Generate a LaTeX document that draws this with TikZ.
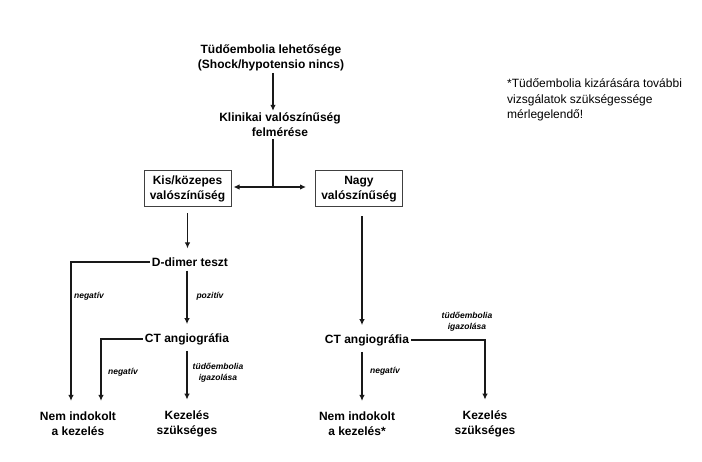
\documentclass[tikz,border=0pt]{standalone}
\usepackage{fontspec}
\setmainfont{Liberation Sans}
\usetikzlibrary{arrows.meta,calc}
\begin{document}
\begin{tikzpicture}[x=1pt,y=-1pt,
  >={Latex[length=6pt,width=5.5pt]},
  lbl/.style={font=\bfseries\fontsize{12}{15}\selectfont, align=center, inner sep=2pt},
  box/.style={lbl, draw=black!75, line width=1pt, minimum width=87pt, minimum height=36pt},
  note/.style={font=\bfseries\itshape\fontsize{8.5}{10.5}\selectfont, align=center, inner sep=0pt},
  ln/.style={line width=1.1pt, black!90}]
\useasboundingbox (0,0) rectangle (702,462);
\node[lbl] (top) at (271,57.5) {Tüdőembolia lehetősége\\(Shock/hypotensio nincs)};
\node[lbl] (klin) at (280,125) {Klinikai valószínűség\\felmérése};
\node[box] (kis) at (187.5,189) {Kis/közepes\\valószínűség};
\node[box] (nagy) at (359,189) {Nagy\\valószínűség};
\node[lbl] (dd) at (190,262) {D-dimer teszt};
\node[lbl] (ctl) at (187,339) {CT angiográfia};
\node[lbl] (ctr) at (367,340) {CT angiográfia};
\node[lbl] (nem1) at (78,424) {Nem indokolt\\a kezelés};
\node[lbl] (kez1) at (187,424) {Kezelés\\szükséges};
\node[lbl] (nem2) at (357,424) {Nem indokolt\\a kezelés*};
\node[lbl] (kez2) at (485,424) {Kezelés\\szükséges};
\node[align=left, anchor=west, font=\fontsize{12}{15.5}\selectfont, inner sep=0pt] (fn) at (507,100) {*Tüdőembolia kizárására további\\vizsgálatok szükségessége\\mérlegelendő!};
\node[note] (n1) at (89,296) {negatív};
\node[note] (p1) at (210,296) {pozitív};
\node[note] (n2) at (123,372) {negatív};
\node[note] (t1) at (218,373) {tüdőembolia\\igazolása};
\node[note] (n3) at (385,371) {negatív};
\node[note] (t2) at (467,322) {tüdőembolia\\igazolása};
\coordinate (j) at (273,187);
\coordinate (lx1) at (71,0);
\coordinate (lx2) at (101,0);
\coordinate (rx) at (362,0);
\draw[ln,->] (top.south -| j) -- (klin.north -| j);
\draw[ln] (klin.south -| j) -- (j);
\draw[ln,<->,shorten <=2pt,shorten >=9pt] (kis.east |- j) -- (nagy.west |- j);
\draw[ln,->,shorten <=6pt,shorten >=7pt] (kis.south) -- (kis.south |- dd.north);
\draw[ln,->,shorten >=9pt] (dd.west) -| (lx1 |- nem1.north);
\draw[ln,->,shorten <=2pt,shorten >=7pt] (dd.south -| ctl) -- (ctl.north);
\draw[ln,->,shorten >=9pt] (ctl.west) -| (lx2 |- nem1.north);
\draw[ln,->,shorten <=4pt,shorten >=9pt] (ctl.south) -- (kez1.north);
\draw[ln,->,shorten <=9pt,shorten >=7pt] (nagy.south -| rx) -- (ctr.north -| rx);
\draw[ln,->,shorten <=4pt,shorten >=9pt] (ctr.south -| rx) -- (nem2.north -| rx);
\draw[ln,->,shorten >=9pt] (ctr.east) -| (kez2.north);
\end{tikzpicture}
\end{document}
